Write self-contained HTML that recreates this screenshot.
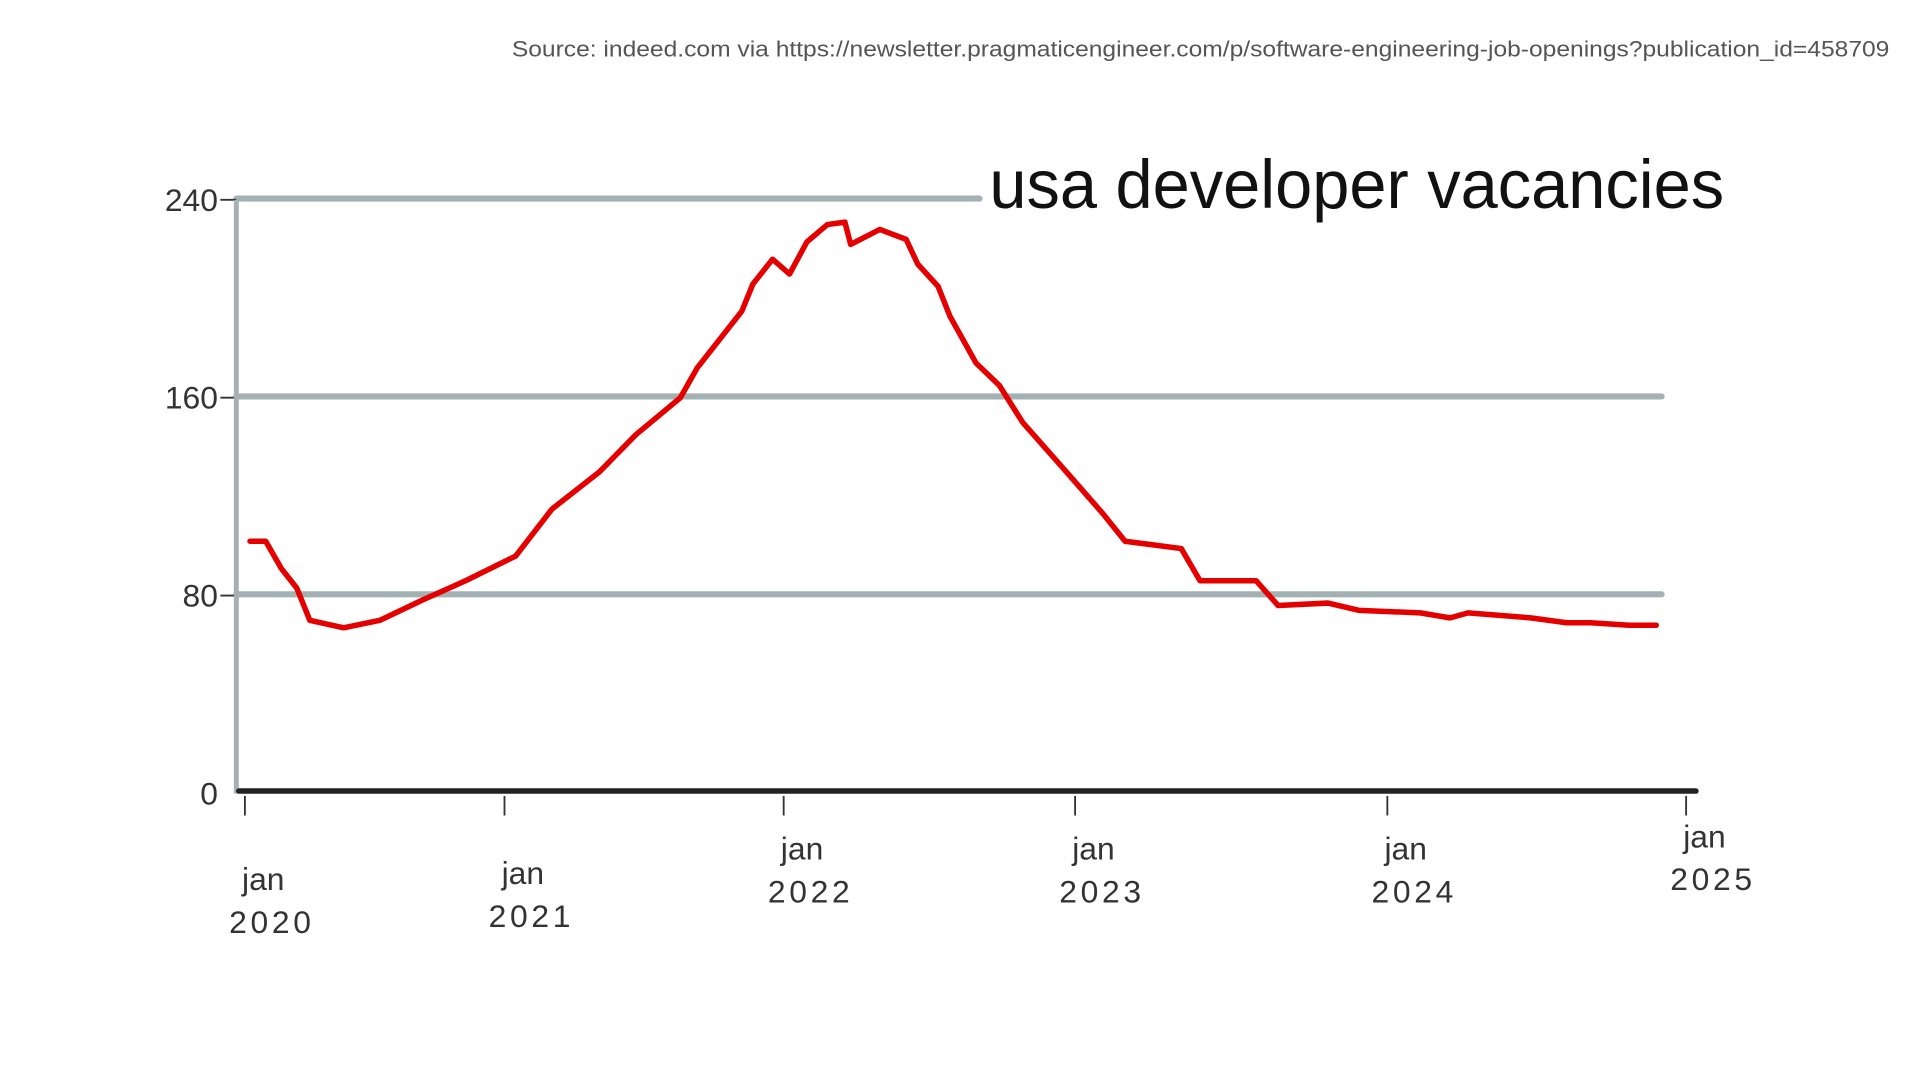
<!DOCTYPE html>
<html><head><meta charset="utf-8"><style>
html,body{margin:0;padding:0;background:#fff;width:1920px;height:1080px;overflow:hidden}
svg{display:block}
</style></head><body>
<svg id="chart" width="1920" height="1080" viewBox="0 0 1568 882" preserveAspectRatio="none" xmlns="http://www.w3.org/2000/svg">
<text x="1543" y="46" text-anchor="end" font-family="Liberation Sans, sans-serif" font-size="18" fill="#555" textLength="1125" lengthAdjust="spacingAndGlyphs">Source: indeed.com via https://newsletter.pragmaticengineer.com/p/software-engineering-job-openings?publication_id=458709</text>
<text x="808" y="170" font-family="Liberation Sans, sans-serif" font-size="56" fill="#111" textLength="600" lengthAdjust="spacingAndGlyphs">usa developer vacancies</text>
<g id="grid"></g><g id="axes"></g><g id="series"></g><g id="labels"></g>
</svg>
<script>
const years = [2020, 2021, 2022, 2023, 2024, 2025];
const yTicks = [0, 80, 160, 240];
const dates = [2020.02,2020.08,2020.14,2020.20,2020.25,2020.38,2020.52,2020.68,2020.85,2021.04,2021.17,2021.34,2021.47,2021.63,2021.69,2021.85,2021.89,2021.96,2022.02,2022.08,2022.15,2022.21,2022.23,2022.33,2022.42,2022.46,2022.53,2022.57,2022.66,2022.74,2022.82,2022.97,2023.09,2023.16,2023.34,2023.40,2023.58,2023.65,2023.81,2023.91,2024.11,2024.21,2024.27,2024.48,2024.60,2024.68,2024.81,2024.90];
const values = [102,102,91,83,70,67,70,78,86,96,115,130,145,160,172,195,206,216,210,223,230,231,222,228,224,214,205,193,174,165,150,130,113,102,99,86,86,76,77,74,73,71,73,71,69,69,68,68];
const NS = "http://www.w3.org/2000/svg";
const tickPx = [200, 412, 640, 878, 1133, 1377];
function xs(t){ let i = Math.min(Math.max(Math.floor(t - 2020), 0), 4); return tickPx[i] + (t - years[i]) * (tickPx[i+1] - tickPx[i]); }
function ys(v){ return 648 - v * 2.02; }
function mk(tag, attrs, parent){ const e = document.createElementNS(NS, tag); for (const k in attrs) e.setAttribute(k, attrs[k]); document.getElementById(parent).appendChild(e); return e; }
// gridlines
yTicks.forEach(v => {
  if (v === 0) return;
  const x2 = v === 240 ? 800 : 1357;
  const g = mk('line', {x1:193, y1:ys(v)-1, x2:x2, y2:ys(v)-1, stroke:'#a3b1b3', 'stroke-width':5, 'stroke-linecap':'round'}, 'grid');
  
  
  const tk = mk('line', {x1:180, y1:ys(v), x2:193, y2:ys(v), stroke:'#333', 'stroke-width':1.5}, 'axes');
  
  
});
const ya = mk('line', {x1:193, y1:ys(240), x2:193, y2:ys(0), stroke:'#a3b1b3', 'stroke-width':4}, 'axes');


const xa = mk('line', {x1:195, y1:ys(0)-2, x2:1385, y2:ys(0)-2, stroke:'#222', 'stroke-width':4.5, 'stroke-linecap':'round'}, 'axes');


// y labels
yTicks.forEach(v => {
  const t = mk('text', {x:178, y:ys(v)+9, 'text-anchor':'end', 'font-family':'Liberation Sans, sans-serif', 'font-size':26, fill:'#333'}, 'labels');
  t.textContent = v;
  
  
});
// x ticks/labels
const labelDy = [0, -5, -25, -25, -25, -35];
years.forEach((yr, i) => {
  const x = xs(yr);
  const tk = mk('line', {x1:x, y1:ys(0)+2, x2:x, y2:ys(0)+18, stroke:'#333', 'stroke-width':1.5}, 'axes');
  
  
  const t1 = mk('text', {x:x+15, y:727+labelDy[i], 'text-anchor':'middle', 'font-family':'Liberation Sans, sans-serif', 'font-size':26, fill:'#333'}, 'labels');
  t1.textContent = 'jan';
  
  
  const t2 = mk('text', {x:x+22, y:762+labelDy[i], 'text-anchor':'middle', 'font-family':'Liberation Sans, sans-serif', 'font-size':26, fill:'#333', 'letter-spacing':3}, 'labels');
  t2.textContent = yr;
  
  
});
// red series
let d = '';
dates.forEach((t, i) => { d += (i ? 'L' : 'M') + xs(t).toFixed(1) + ',' + ys(values[i]).toFixed(1); });
const p = mk('path', {d:d, fill:'none', stroke:'#e50000', 'stroke-width':4.5, 'stroke-linejoin':'round', 'stroke-linecap':'round'}, 'series');


</script>
</body></html>
